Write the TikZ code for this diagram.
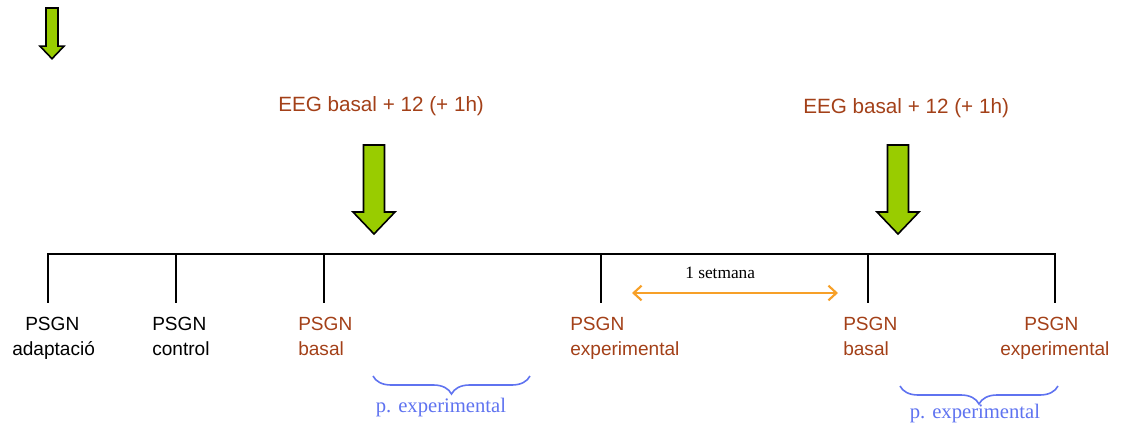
\documentclass[tikz,border=0pt]{standalone}
\usepackage{fontspec}
\setmainfont{Liberation Serif}
\setsansfont{Liberation Sans}
\usetikzlibrary{decorations.pathreplacing,arrows.meta}
\definecolor{brn}{RGB}{163,64,24}
\definecolor{bracecol}{RGB}{95,115,240}
\definecolor{orng}{RGB}{247,160,40}
\definecolor{grn}{RGB}{153,204,0}
\tikzset{
  lbl/.style={font=\sffamily\fontsize{14.3}{16}\selectfont, inner sep=0pt, anchor=base west},
  lblb/.style={lbl, text=brn},
  eeg/.style={font=\sffamily\fontsize{15.5}{18}\selectfont, inner sep=0pt, anchor=base west, text=brn},
  ptxt/.style={font=\fontsize{15.5}{18}\selectfont, inner sep=0pt, anchor=base, text=bracecol},
  wtxt/.style={font=\fontsize{13}{15}\selectfont, inner sep=0pt, anchor=base west},
  tline/.style={draw=black, line width=1.1pt},
  brc/.style={draw=bracecol, line width=1.2pt, decorate, decoration={brace, amplitude=13.5pt, mirror}},
  arrowstyle/.style={draw=black, fill=grn, line width=1.2pt, line join=miter},
  greenarrow/.pic={\path[arrowstyle] (-10.5,0) -- (10.5,0) -- (10.5,67) -- (21,67) -- (0,89) -- (-21,67) -- (-10.5,67) -- cycle;}
}
\begin{document}
\begin{tikzpicture}[x=0.75pt,y=-0.75pt]
\useasboundingbox (0,0) rectangle (1125,425);
% green arrows
\pic[scale=0.57] at (52,8) {greenarrow};
\pic at (374,145) {greenarrow};
\pic at (898,145) {greenarrow};
% EEG labels
\node[eeg] (eeg1) at (278,111) {EEG basal + 12 (+ 1h)};
\node[eeg] (eeg2) at (803,113) {EEG basal + 12 (+ 1h)};
% timeline
\coordinate (L) at (47,254);
\coordinate (R) at (1056,254);
\draw[tline, line width=1.5pt] (L) -- (R);
\foreach \i/\x in {1/48,2/176,3/324,4/601,5/868,6/1055}{
  \coordinate (t\i) at (\x,254);
  \coordinate (b\i) at (\x,303);
  \draw[tline] (t\i) -- (b\i);
}
% labels
\node[lbl] (a1) at (25,330) {PSGN};
\node[lbl] (a2) at (12,355) {adaptació};
\node[lbl] (c1) at (152,330) {PSGN};
\node[lbl] (c2) at (152,355) {control};
\node[lblb] (ba1) at (298,330) {PSGN};
\node[lblb] (ba2) at (298,355) {basal};
\node[lblb] (e1) at (570,330) {PSGN};
\node[lblb] (e2) at (570,355) {experimental};
\node[lblb] (bb1) at (843,330) {PSGN};
\node[lblb] (bb2) at (843,355) {basal};
\node[lblb] (f1) at (1024,330) {PSGN};
\node[lblb] (f2) at (1000,355) {experimental};
% one week
\node[wtxt] (wk) at (685,278) {1 setmana};
\coordinate (oa) at (632,293);
\coordinate (ob) at (838,293);
\draw[orng, line width=1.6pt, {Straight Barb[length=6pt,width=11pt]}-{Straight Barb[length=6pt,width=11pt]}] (oa) -- (ob);
% braces
\coordinate (br1a) at (373,376);
\coordinate (br1b) at (530,376);
\draw[brc] (br1a) -- (br1b);
\node[ptxt] (p1) at (441,412) {p. experimental};
\coordinate (br2a) at (900,386);
\coordinate (br2b) at (1058,386);
\draw[brc] (br2a) -- (br2b);
\node[ptxt] (p2) at (975,418) {p. experimental};
\end{tikzpicture}
\end{document}
